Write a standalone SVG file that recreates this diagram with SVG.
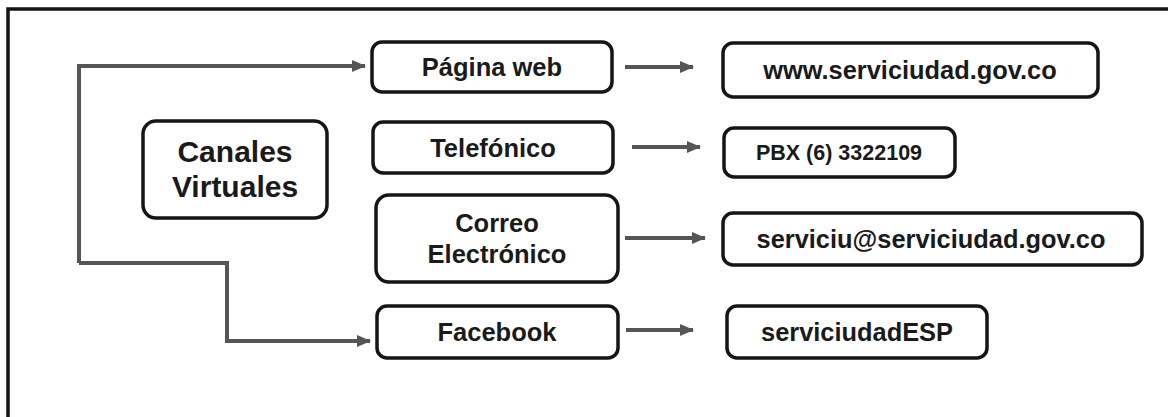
<svg xmlns="http://www.w3.org/2000/svg" width="1168" height="417" viewBox="0 0 1168 417">
<style>
.box{fill:#fff;stroke:#151515;stroke-width:3.5}
.t{font-family:"Liberation Sans",Arial,sans-serif;font-weight:bold;fill:#1a1a1a;text-anchor:middle}
.c{fill:none;stroke:#555;stroke-width:4}
</style>
<defs>
<marker id="ah" markerUnits="userSpaceOnUse" markerWidth="14" markerHeight="14" refX="13" refY="7" orient="auto">
<path d="M0,1 L14,7 L0,13 Z" fill="#555"/>
</marker>
</defs>
<rect width="1168" height="417" fill="#fff"/>
<path d="M8,420 V9 H1170" fill="none" stroke="#151515" stroke-width="3.5"/>
<g id="connectors">
<path class="c" d="M79,263 V66 H365" marker-end="url(#ah)"/>
<path class="c" d="M79,263 H227 V341 H370" marker-end="url(#ah)"/>
<path class="c" d="M625,67 H693" marker-end="url(#ah)"/>
<path class="c" d="M632,147 H700" marker-end="url(#ah)"/>
<path class="c" d="M625,238 H705" marker-end="url(#ah)"/>
<path class="c" d="M626,330 H693" marker-end="url(#ah)"/>
</g>
<g id="canales">
<rect class="box" x="143" y="121" width="184" height="97" rx="13"/>
<text class="t" x="235" y="162" font-size="30">Canales</text>
<text class="t" x="235" y="197" font-size="30">Virtuales</text>
</g>
<g id="pagina">
<rect class="box" x="372" y="42" width="240" height="50" rx="10"/>
<text class="t" x="492" y="76" font-size="25.5">Página web</text>
</g>
<g id="telefonico">
<rect class="box" x="373" y="122" width="240" height="51" rx="10"/>
<text class="t" x="493" y="157" font-size="25.5">Telefónico</text>
</g>
<g id="correo">
<rect class="box" x="376" y="195" width="242" height="87" rx="13"/>
<text class="t" x="497" y="232" font-size="25.5">Correo</text>
<text class="t" x="497" y="263" font-size="25.5">Electrónico</text>
</g>
<g id="facebook">
<rect class="box" x="377" y="306" width="241" height="52" rx="10"/>
<text class="t" x="497" y="341" font-size="25.5">Facebook</text>
</g>
<g id="www">
<rect class="box" x="723" y="43" width="375" height="54" rx="10"/>
<text class="t" x="910" y="79" font-size="25.4">www.serviciudad.gov.co</text>
</g>
<g id="pbx">
<rect class="box" x="724" y="128" width="231" height="49" rx="10"/>
<text class="t" x="839" y="160" font-size="21.5">PBX (6) 3322109</text>
</g>
<g id="email">
<rect class="box" x="723" y="213" width="419" height="52" rx="10"/>
<text class="t" x="931" y="248" font-size="25.4">serviciu@serviciudad.gov.co</text>
</g>
<g id="esp">
<rect class="box" x="727" y="306" width="260" height="52" rx="10"/>
<text class="t" x="857" y="341" font-size="25.4">serviciudadESP</text>
</g>
</svg>
